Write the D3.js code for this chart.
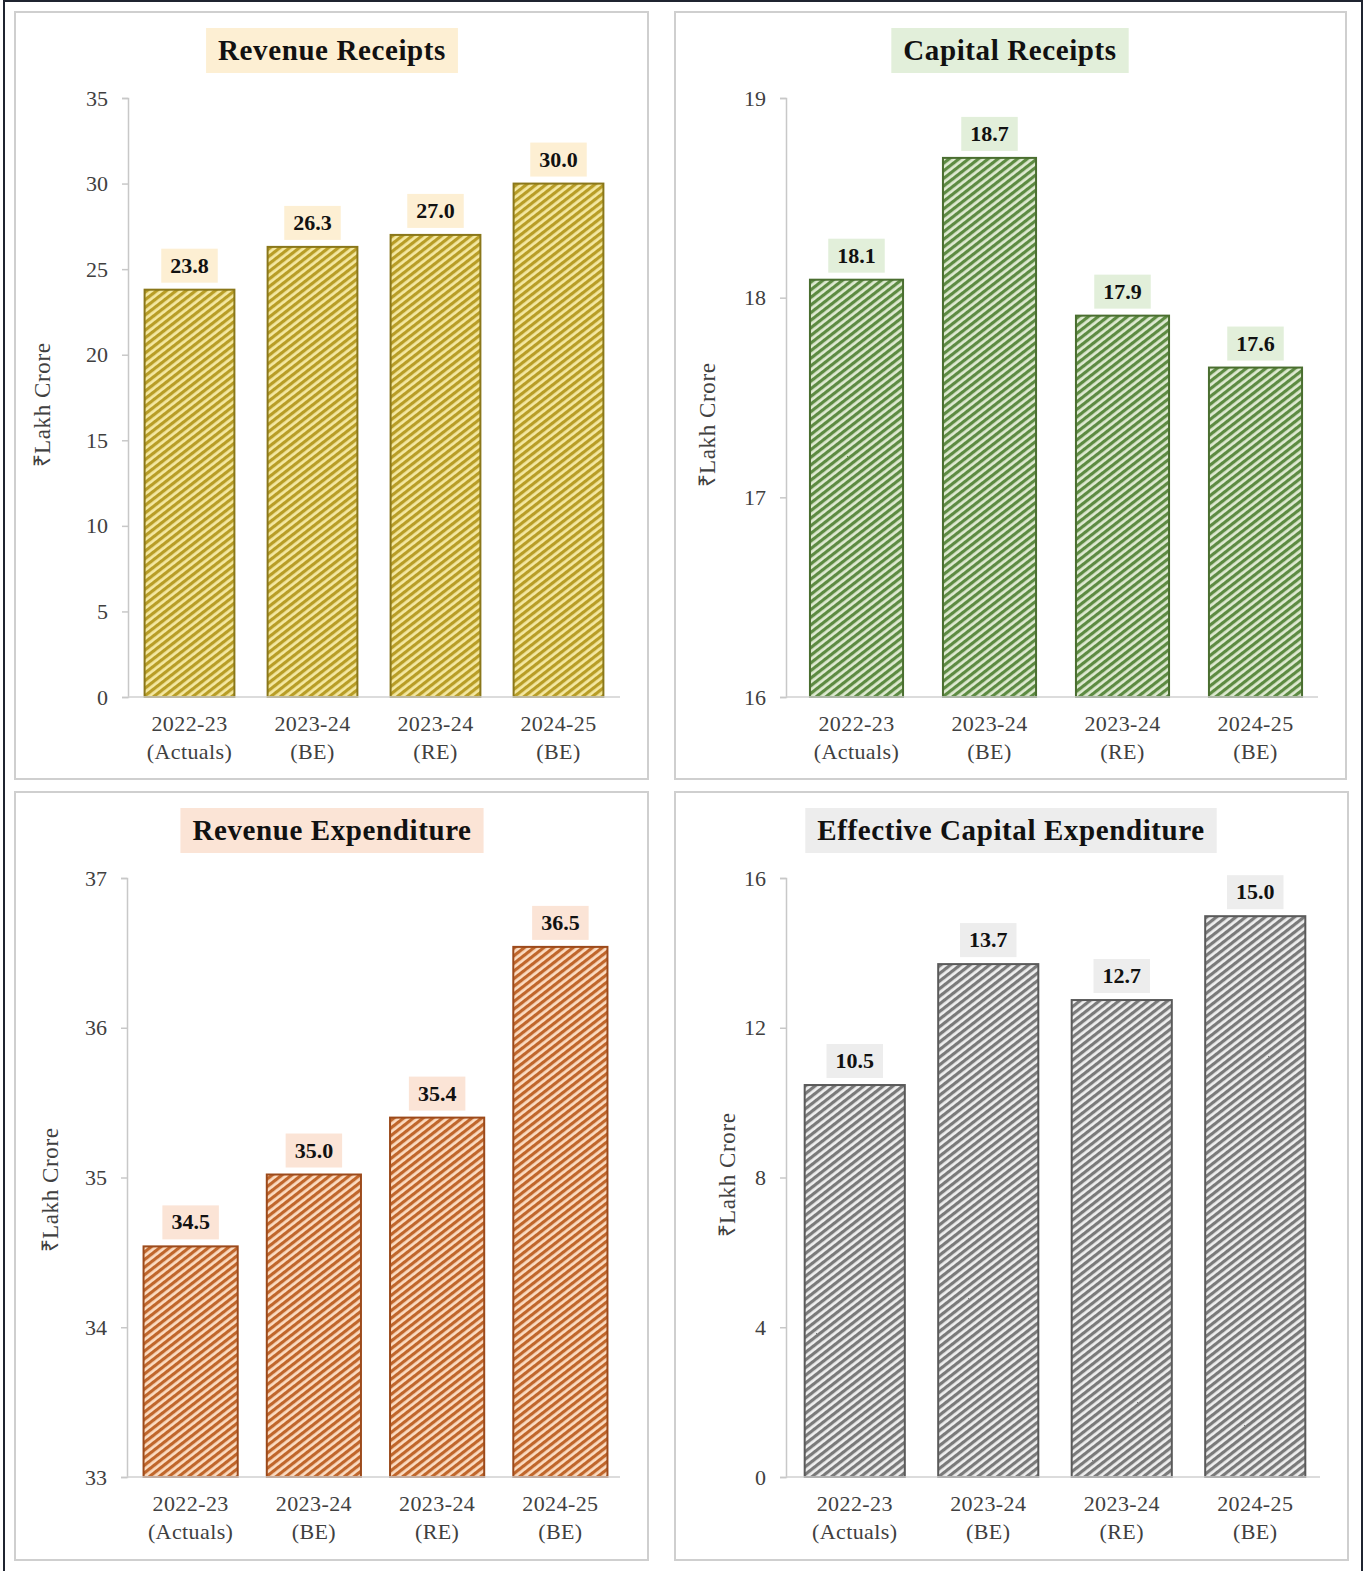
<!DOCTYPE html>
<html><head><meta charset="utf-8">
<script src="https://cdn.jsdelivr.net/npm/d3@7"></script>
<style>
body{margin:0;background:#fff;}
svg{display:block;}
text{font-family:"Liberation Serif","Times New Roman",serif;}
</style>
</head><body>
<svg id="c" width="1365" height="1571"></svg>
<script>
// ---- data ----
const categoryYears = ["2022-23", "2023-24", "2023-24", "2024-25"];
const categoryTypes = ["(Actuals)", "(BE)", "(RE)", "(BE)"];
const revenueReceipts = [23.8, 26.3, 27.0, 30.0];
const capitalReceipts = [18.09, 18.70, 17.91, 17.65];
const revenueExpenditure = [34.54, 35.02, 35.40, 36.54];
const effectiveCapitalExpenditure = [10.47, 13.70, 12.74, 14.98];
const revenueReceiptsTicks = [0, 5, 10, 15, 20, 25, 30, 35];
const capitalReceiptsTicks = [16, 17, 18, 19];
const revenueExpenditureTicks = [33, 34, 35, 36, 37];
const effectiveCapexTicks = [0, 4, 8, 12, 16];
const panelTitles = ["Revenue Receipts", "Capital Receipts", "Revenue Expenditure", "Effective Capital Expenditure"];
const yAxisTitle = "₹Lakh Crore";

const svg = d3.select("#c");
const defs = svg.append("defs");

const panels = [
  {title: panelTitles[0], values: revenueReceipts, ticks: revenueReceiptsTicks,
   frame: [15, 12, 633, 767], plot: [128, 620, 98, 697], band: [128, 620], tx: 332, ty: 50,
   titleBg: "#fdefd3", labelBg: "#fdefd3", pad: 0.27, ylx: 42, yly: 405,
   col: {bg: "#f4e8a2", stripe: "#b89d26", stroke: "#8a771a"}},
  {title: panelTitles[1], values: capitalReceipts, ticks: capitalReceiptsTicks,
   frame: [675, 12, 671, 767], plot: [786, 1318, 98, 697], band: [790, 1322], tx: 1010, ty: 50,
   titleBg: "#e2efda", labelBg: "#e2efda", pad: 0.30, ylx: 707, yly: 425,
   col: {bg: "#dfead2", stripe: "#5d8b42", stroke: "#4a6e30"}},
  {title: panelTitles[2], values: revenueExpenditure, ticks: revenueExpenditureTicks,
   frame: [15, 792, 633, 768], plot: [127, 620, 878, 1477], band: [129, 622], tx: 332, ty: 830,
   titleBg: "#fbe4d6", labelBg: "#fbe4d6", pad: 0.236, ylx: 50, yly: 1190,
   col: {bg: "#fbdcc2", stripe: "#c0662b", stroke: "#9c4a1b"}},
  {title: panelTitles[3], values: effectiveCapitalExpenditure, ticks: effectiveCapexTicks,
   frame: [675, 792, 673, 768], plot: [786, 1320, 878, 1477], band: [788, 1322], tx: 1011, ty: 830,
   titleBg: "#ededed", labelBg: "#ededed", pad: 0.25, ylx: 727, yly: 1175,
   col: {bg: "#efefef", stripe: "#7a7a7a", stroke: "#5a5a5a"}}
];

// outer frame
svg.append("path").attr("d", "M4,1571 L4,1 L1362,1 L1362,1571")
  .attr("fill", "none").attr("stroke", "#1f2430").attr("stroke-width", 2);

panels.forEach((p, i) => {
  const pid = "pat" + i;
  const pat = defs.append("pattern").attr("id", pid)
    .attr("patternUnits", "userSpaceOnUse").attr("width", 6).attr("height", 6)
    .attr("patternTransform", "rotate(-38)");
  pat.append("rect").attr("width", 6).attr("height", 6).attr("fill", p.col.bg);
  pat.append("rect").attr("width", 6).attr("height", 3.2).attr("fill", p.col.stripe);

  const g = svg.append("g");
  const [fx, fy, fw, fh] = p.frame;
  g.append("rect").attr("x", fx).attr("y", fy).attr("width", fw).attr("height", fh)
    .attr("fill", "#fff").attr("stroke", "#cfcfcf").attr("stroke-width", 2);

  const [x0, x1, yTop, yBot] = p.plot;
  const x = d3.scaleBand().domain(d3.range(p.values.length)).range(p.band)
    .paddingInner(p.pad).paddingOuter(p.pad / 2);
  const y = d3.scaleLinear().domain([p.ticks[0], p.ticks[p.ticks.length - 1]]).range([yBot, yTop]);

  // title
  const tg = g.append("g");
  const tt = tg.append("text").attr("x", p.tx).attr("y", p.ty + 10)
    .attr("text-anchor", "middle").attr("font-size", 29).attr("font-weight", "bold")
    .attr("letter-spacing", 0.6).attr("fill", "#111").text(p.title);
  const tb = tt.node().getBBox();
  tg.insert("rect", "text").attr("x", tb.x - 12).attr("y", p.ty - 22)
    .attr("width", tb.width + 24).attr("height", 45).attr("fill", p.titleBg);

  // y axis
  const ya = g.append("g").attr("transform", `translate(${x0},0)`)
    .call(d3.axisLeft(y).tickValues(p.ticks).tickSize(6).tickPadding(14).tickFormat(d3.format("d")));
  ya.select(".domain").attr("stroke", "#c8c8c8").attr("stroke-width", 1.5);
  ya.selectAll(".tick line").attr("stroke", "#c8c8c8").attr("stroke-width", 1.5);
  ya.selectAll(".tick text").attr("font-size", 22).attr("fill", "#404040")
    .attr("font-family", "'Liberation Serif',serif");

  // y title
  g.append("text").attr("transform", `translate(${p.ylx},${p.yly}) rotate(-90)`)
    .attr("text-anchor", "middle").attr("dy", "0.35em").attr("font-size", 23)
    .attr("letter-spacing", 0.6).attr("fill", "#404040").text(yAxisTitle);

  // bars
  g.selectAll("rect.bar").data(p.values).join("rect").attr("class", "bar")
    .attr("x", (d, j) => x(j)).attr("width", x.bandwidth())
    .attr("y", d => y(d)).attr("height", d => yBot - y(d))
    .attr("fill", `url(#${pid})`).attr("stroke", p.col.stroke).attr("stroke-width", 2);

  // baseline
  g.append("line").attr("x1", x0).attr("x2", x1).attr("y1", yBot).attr("y2", yBot)
    .attr("stroke", "#d0d0d0").attr("stroke-width", 1.5);

  // x axis labels
  const xa = g.append("g").attr("transform", `translate(0,${yBot})`)
    .call(d3.axisBottom(x).tickSize(0).tickPadding(0).tickFormat(() => ""));
  xa.select(".domain").remove();
  xa.selectAll(".tick text").each(function (d) {
    const t = d3.select(this).attr("font-size", 22).attr("fill", "#404040")
      .attr("letter-spacing", 0.4)
      .attr("font-family", "'Liberation Serif',serif").attr("dy", null).attr("y", 0);
    t.append("tspan").attr("x", 0).attr("y", 34).text(categoryYears[d]);
    t.append("tspan").attr("x", 0).attr("y", 62).text(categoryTypes[d]);
  });

  // value labels
  const fmt = d3.format(".1f");
  p.values.forEach((v, j) => {
    const cx = x(j) + x.bandwidth() / 2;
    const cy = y(v) - 24;
    const lg = g.append("g");
    const lt = lg.append("text").attr("x", cx).attr("y", cy + 7)
      .attr("text-anchor", "middle").attr("font-size", 22).attr("font-weight", "bold")
      .attr("fill", "#111").text(fmt(v));
    const b = lt.node().getBBox();
    lg.insert("rect", "text").attr("x", b.x - 9).attr("y", cy - 17)
      .attr("width", b.width + 18).attr("height", 34).attr("fill", p.labelBg);
  });
});
</script>
</body></html>
